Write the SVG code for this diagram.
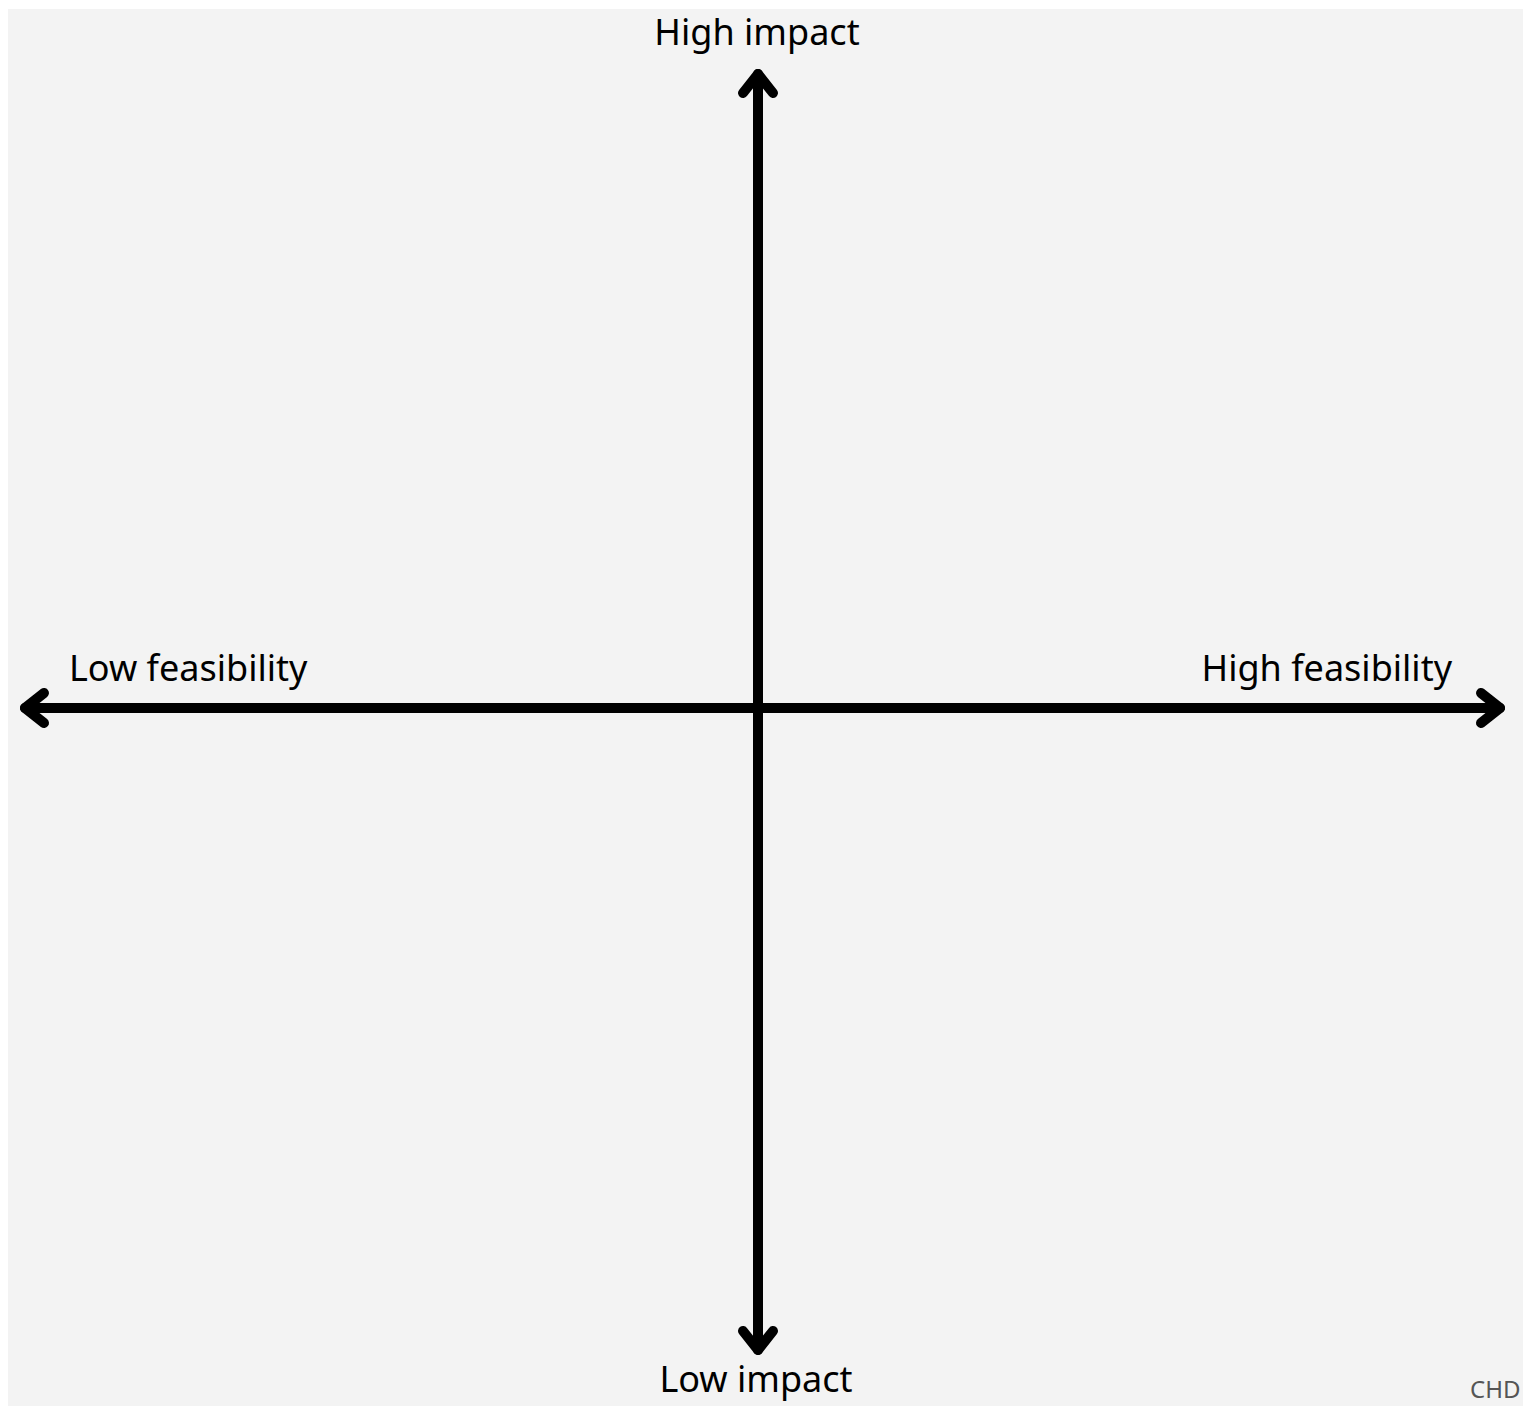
<svg xmlns="http://www.w3.org/2000/svg" width="1528" height="1406" viewBox="0 0 1528 1406">
<style>
.lbl{font-family:"Noto Sans","Liberation Sans",sans-serif;font-size:36px;fill:#000}
.ax{stroke:#000;stroke-width:10;fill:none;stroke-linecap:round;stroke-linejoin:round}
.credit{font-family:"Noto Sans","Liberation Sans",sans-serif;font-size:24px;fill:#555}
</style>
<rect x="0" y="0" width="1528" height="1406" fill="#fff"/>
<rect x="8" y="9" width="1515" height="1397" fill="#f3f3f3"/>
<g id="connectors">
<path class="ax" d="M758 74 V1350"/>
<path class="ax" d="M743 93 L758 74 L773 93"/>
<path class="ax" d="M743 1331 L758 1350 L773 1331"/>
<path class="ax" d="M25 708 H1500"/>
<path class="ax" d="M44 693 L25 708 L44 723"/>
<path class="ax" d="M1481 693 L1500 708 L1481 723"/>
</g>
<g id="high-impact"><text class="lbl" x="757" y="45" text-anchor="middle">High impact</text></g>
<g id="low-impact"><text class="lbl" x="756" y="1392" text-anchor="middle">Low impact</text></g>
<g id="low-feasibility"><text class="lbl" x="69" y="681">Low feasibility</text></g>
<g id="high-feasibility"><text class="lbl" x="1452" y="681" text-anchor="end">High feasibility</text></g>
<text class="credit" x="1470" y="1398">CHD</text>
</svg>
